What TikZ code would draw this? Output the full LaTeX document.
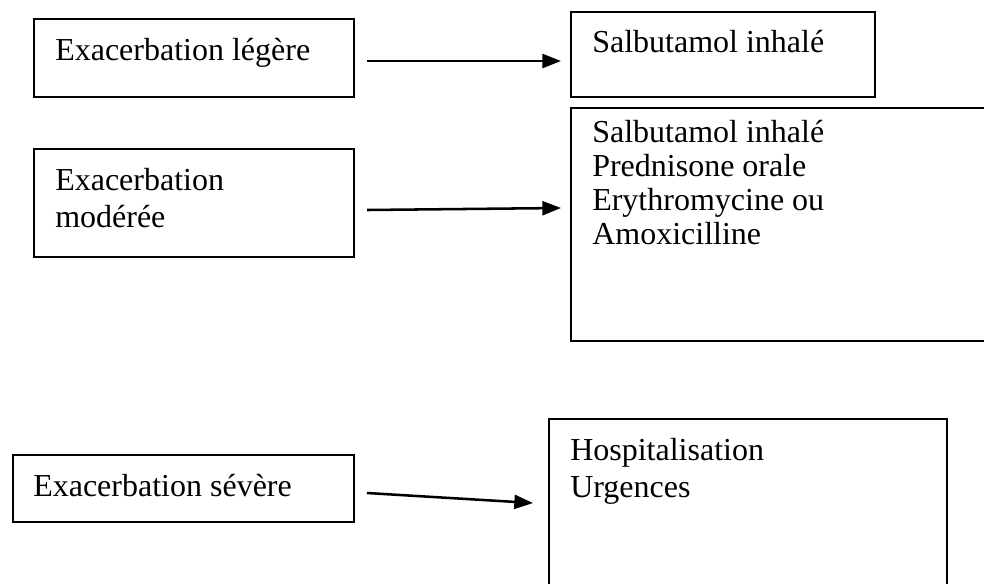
\documentclass[tikz,border=0pt]{standalone}
\usepackage{fontspec}
\setmainfont{Liberation Serif}
\usetikzlibrary{arrows.meta}
\begin{document}
\begin{tikzpicture}[x=0.75pt,y=-0.75pt,
  box/.style={draw, line width=0.8pt, anchor=north west, inner sep=0pt, outer sep=0pt},
  lbl/.style={anchor=base west, inner sep=0pt, font=\fontsize{24}{27.75}\selectfont},
  conn/.style={line width=1.9pt, -{Triangle[length=14pt,width=10.5pt]}}]
\clip (0,0) rectangle (984,583);
\fill[white] (0,0) rectangle (984,583);
% boxes
\node[box, minimum width=240pt, minimum height=58.5pt] (b1) at (34,19) {};
\node[box, minimum width=228pt, minimum height=63.75pt] (b2) at (571,12) {};
\node[box, minimum width=240pt, minimum height=81pt] (b3) at (34,149) {};
\node[box, minimum width=321.75pt, minimum height=174.75pt] (b4) at (571,108) {};
\node[box, minimum width=255.75pt, minimum height=50.25pt] (b5) at (13,455) {};
\node[box, minimum width=298.5pt, minimum height=135.75pt] (b6) at (549,419) {};
% texts
\node[lbl] (t1) at (55,60) {Exacerbation légère};
\node[lbl] (t2) at (592,52) {Salbutamol inhalé};
\node[lbl] (t3a) at (55,190) {Exacerbation};
\node[lbl] (t3b) at (55,227) {modérée};
\node[lbl] (t4a) at (592,142) {Salbutamol inhalé};
\node[lbl] (t4b) at (592,176) {Prednisone orale};
\node[lbl] (t4c) at (592,210) {Erythromycine ou};
\node[lbl] (t4d) at (592,244) {Amoxicilline};
\node[lbl] (t5) at (33,496) {Exacerbation sévère};
\node[lbl] (t6a) at (570,460) {Hospitalisation};
\node[lbl] (t6b) at (570,497) {Urgences};
% connectors
\coordinate (a1s) at (367,61);  \coordinate (a1e) at (561,61);
\coordinate (a2s) at (367,210); \coordinate (a2e) at (561,208);
\coordinate (a3s) at (367,493); \coordinate (a3e) at (533,503);
\draw[conn] (a1s) -- (a1e);
\draw[conn] (a2s) -- (a2e);
\draw[conn] (a3s) -- (a3e);
\end{tikzpicture}
\end{document}
